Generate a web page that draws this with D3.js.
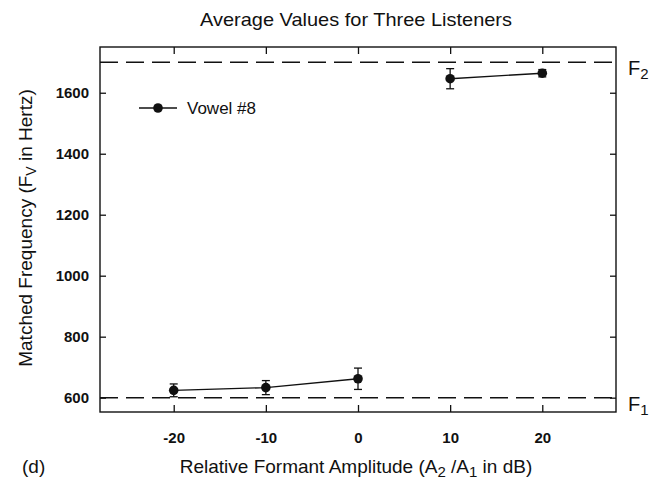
<!DOCTYPE html>
<html>
<head>
<meta charset="utf-8">
<script src="https://cdn.jsdelivr.net/npm/d3@7"></script>
<style>
  body { margin: 0; background: #fff; }
  text { font-family: "Liberation Sans", Arial, sans-serif; fill: #111; }
</style>
</head>
<body>
<div id="chart"></div>
<script>
// matched frequency data
var xTicks = [-20, -10, 0, 10, 20];
var yTicks = [600, 800, 1000, 1200, 1400, 1600];

var lowLevels = [-20, -10, 0];     // matches near F1
var lowMeans = [624, 633, 662];
var lowErrors = [21, 23, 35];

var highLevels = [10, 20];         // matches near F2
var highMeans = [1646, 1664];
var highErrors = [33, 12];

var formantValues = [600, 1700];
var formantNames = ["F", "F"];
var formantSubs = ["1", "2"];

(function() {
  "use strict";

  var w = 665;
  var h = 480;
  var left = 100, right = 616, top = 47, bottom = 412;

  var x = d3.scaleLinear()
    .domain([-28, 28])
    .range([left, right]);

  var y = d3.scaleLinear()
    .domain([553, 1750])
    .range([bottom, top]);

  var plain = function(d) { return String(d); }; // keep "-20" and "1600" as printed

  var svg = d3.select("#chart")
    .append("svg")
    .attr("width", w)
    .attr("height", h);

  // frame
  svg.append("rect")
    .attr("x", left)
    .attr("y", top)
    .attr("width", right - left)
    .attr("height", bottom - top)
    .attr("fill", "none")
    .attr("stroke", "#111")
    .attr("stroke-width", 1.4);

  // axes, ticks pointing in
  var xb = svg.append("g")
    .attr("transform", "translate(0," + bottom + ")")
    .call(d3.axisBottom(x).tickValues(xTicks).tickFormat(plain).tickSizeInner(-7).tickSizeOuter(0).tickPadding(20));
  var xt = svg.append("g")
    .attr("transform", "translate(0," + top + ")")
    .call(d3.axisTop(x).tickValues(xTicks).tickSizeInner(-7).tickSizeOuter(0).tickFormat(""));
  var yl = svg.append("g")
    .attr("transform", "translate(" + left + ",0)")
    .call(d3.axisLeft(y).tickValues(yTicks).tickFormat(plain).tickSizeInner(-6).tickSizeOuter(0).tickPadding(11));
  var yr = svg.append("g")
    .attr("transform", "translate(" + right + ",0)")
    .call(d3.axisRight(y).tickValues(yTicks).tickSizeInner(-6).tickSizeOuter(0).tickFormat(""));

  [xb, xt, yl, yr].forEach(function(g) {
    g.select(".domain").remove();
    g.selectAll(".tick line").attr("stroke", "#111").attr("stroke-width", 1.3);
  });
  xb.selectAll(".tick text")
    .attr("font-size", 15).attr("font-weight", "bold")
    .style("font-family", '"Liberation Sans", Arial, sans-serif');
  yl.selectAll(".tick text")
    .attr("font-size", 15).attr("font-weight", "bold")
    .style("font-family", '"Liberation Sans", Arial, sans-serif');

  // formant reference lines
  svg.selectAll("line.formant")
    .data(formantValues)
    .enter()
    .append("line")
    .attr("class", "formant")
    .attr("x1", left)
    .attr("x2", right)
    .attr("y1", function(d) { return y(d); })
    .attr("y2", function(d) { return y(d); })
    .attr("stroke", "#111")
    .attr("stroke-width", 1.5)
    .attr("stroke-dasharray", "18,8");

  var fl = svg.selectAll("text.formant")
    .data(formantValues)
    .enter()
    .append("text")
    .attr("class", "formant")
    .attr("x", right + 12)
    .attr("y", function(d) { return y(d) + 13; })
    .attr("font-size", 20);
  fl.append("tspan").text(function(d, i) { return formantNames[i]; });
  fl.append("tspan").attr("dy", 4).attr("font-size", 15)
    .text(function(d, i) { return formantSubs[i]; });

  // series
  var line = d3.line()
    .x(function(d) { return x(d[0]); })
    .y(function(d) { return y(d[1]); });

  function drawSeries(levels, means, errors) {
    var pts = levels.map(function(l, i) { return [l, means[i], errors[i]]; });
    svg.append("path")
      .attr("d", line(pts))
      .attr("fill", "none")
      .attr("stroke", "#111")
      .attr("stroke-width", 1.4);

    var eb = svg.append("g").selectAll("g")
      .data(pts)
      .enter()
      .append("g")
      .attr("stroke", "#111")
      .attr("stroke-width", 1.3);
    eb.append("line")
      .attr("x1", function(d) { return x(d[0]); })
      .attr("x2", function(d) { return x(d[0]); })
      .attr("y1", function(d) { return y(d[1] - d[2]); })
      .attr("y2", function(d) { return y(d[1] + d[2]); });
    eb.append("line")
      .attr("x1", function(d) { return x(d[0]) - 4; })
      .attr("x2", function(d) { return x(d[0]) + 4; })
      .attr("y1", function(d) { return y(d[1] + d[2]); })
      .attr("y2", function(d) { return y(d[1] + d[2]); });
    eb.append("line")
      .attr("x1", function(d) { return x(d[0]) - 4; })
      .attr("x2", function(d) { return x(d[0]) + 4; })
      .attr("y1", function(d) { return y(d[1] - d[2]); })
      .attr("y2", function(d) { return y(d[1] - d[2]); });

    svg.append("g").selectAll("circle")
      .data(pts)
      .enter()
      .append("circle")
      .attr("cx", function(d) { return x(d[0]); })
      .attr("cy", function(d) { return y(d[1]); })
      .attr("r", 4.8)
      .attr("fill", "#111");
  }

  drawSeries(lowLevels, lowMeans, lowErrors);
  drawSeries(highLevels, highMeans, highErrors);

  // legend
  svg.append("line")
    .attr("x1", 139).attr("x2", 177)
    .attr("y1", 108).attr("y2", 108)
    .attr("stroke", "#111").attr("stroke-width", 1.4);
  svg.append("circle")
    .attr("cx", 158).attr("cy", 108).attr("r", 4.8)
    .attr("fill", "#111");
  svg.append("text")
    .attr("x", 187).attr("y", 114)
    .attr("font-size", 17)
    .text("Vowel #8");

  // titles
  svg.append("text")
    .attr("x", 356).attr("y", 26)
    .attr("text-anchor", "middle")
    .attr("font-size", 19)
    .attr("textLength", 312)
    .attr("lengthAdjust", "spacingAndGlyphs")
    .text("Average Values for Three Listeners");

  var xl = svg.append("text")
    .attr("x", 356).attr("y", 473)
    .attr("text-anchor", "middle")
    .attr("font-size", 19);
  xl.append("tspan").text("Relative Formant Amplitude (A");
  xl.append("tspan").attr("dy", 4).attr("font-size", 15).text("2");
  xl.append("tspan").attr("dy", -4).text(" /A");
  xl.append("tspan").attr("dy", 4).attr("font-size", 15).text("1");
  xl.append("tspan").attr("dy", -4).text(" in dB)");

  var ylab = svg.append("text")
    .attr("transform", "translate(32,228) rotate(-90)")
    .attr("text-anchor", "middle")
    .attr("font-size", 19);
  ylab.append("tspan").text("Matched Frequency (F");
  ylab.append("tspan").attr("dy", 4).attr("font-size", 14).text("V");
  ylab.append("tspan").attr("dy", -4).text("  in Hertz)");

  svg.append("text")
    .attr("x", 22).attr("y", 473)
    .attr("font-size", 19)
    .text("(d)");
})();
</script>
</body>
</html>
